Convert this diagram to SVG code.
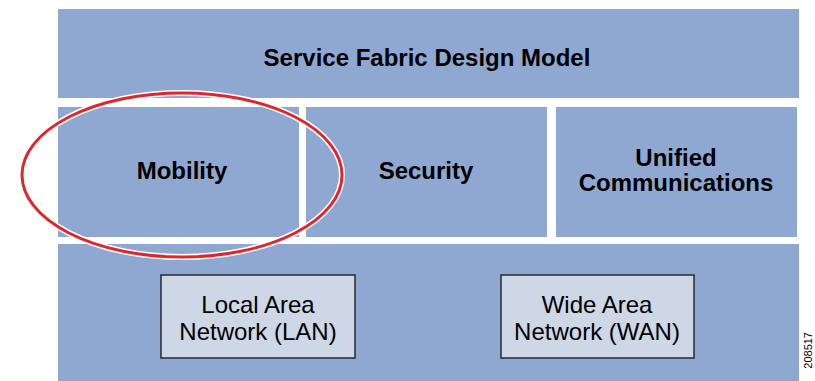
<svg xmlns="http://www.w3.org/2000/svg" width="815" height="381" viewBox="0 0 815 381">
<style>
.band{fill:#8FA8D1}
.box{fill:#CDD7E5;stroke:#2A2A2A;stroke-width:1.5}
.b{font-family:"Liberation Sans",Arial,sans-serif;font-weight:bold;font-size:24px;fill:#000;text-anchor:middle}
.r{font-family:"Liberation Sans",Arial,sans-serif;font-size:24px;fill:#000;text-anchor:middle}
</style>
<rect width="815" height="381" fill="#fff"/>
<g id="top"><rect class="band" x="58" y="9" width="741" height="89"/><text class="b" x="427" y="66">Service Fabric Design Model</text></g>
<g id="mobility"><rect class="band" x="58" y="107" width="241" height="130"/><text class="b" x="182" y="179">Mobility</text></g>
<g id="security"><rect class="band" x="306" y="107" width="241" height="130"/><text class="b" x="426" y="179">Security</text></g>
<g id="uc"><rect class="band" x="556" y="107" width="241" height="130"/><text class="b" x="676" y="166">Unified</text><text class="b" x="676" y="191">Communications</text></g>
<g id="bottom"><rect class="band" x="58" y="244" width="741" height="137"/></g>
<g id="lan"><rect class="box" x="161" y="275" width="194" height="83"/><text class="r" x="258" y="313">Local Area</text><text class="r" x="258" y="340">Network (LAN)</text></g>
<g id="wan"><rect class="box" x="501" y="275" width="193" height="83"/><text class="r" x="597" y="313">Wide Area</text><text class="r" x="597" y="340">Network (WAN)</text></g>
<g id="highlight"><ellipse cx="182" cy="175" rx="160" ry="82" fill="none" stroke="#fff" stroke-width="6"/><ellipse cx="182" cy="175" rx="160" ry="82" fill="none" stroke="#E0262B" stroke-width="3"/></g>
<text x="0" y="0" transform="translate(812,332) rotate(-90)" font-family="Liberation Sans,Arial,sans-serif" font-size="11" text-anchor="end" fill="#000">208517</text>
</svg>
